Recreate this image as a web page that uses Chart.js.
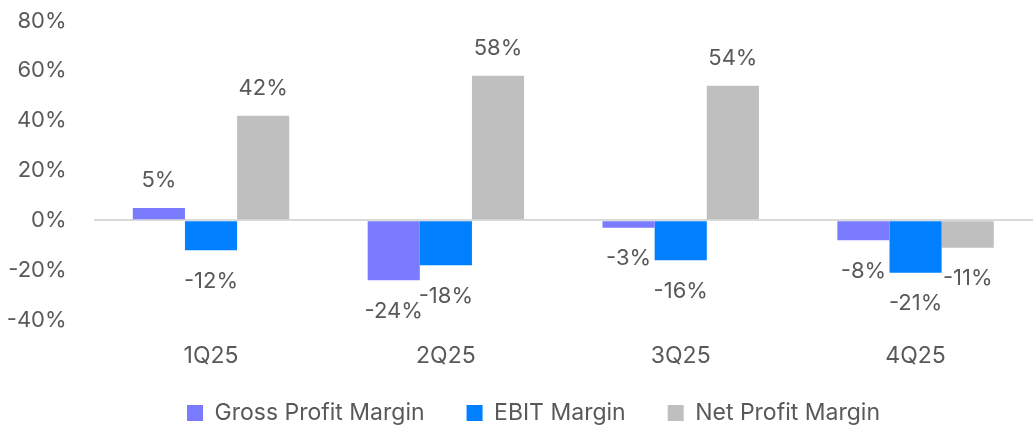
<!DOCTYPE html>
<html>
<head>
<meta charset="utf-8">
<script src="https://cdn.jsdelivr.net/npm/chart.js@4/dist/chart.umd.min.js"></script>
<style>
  html, body { margin: 0; padding: 0; background: #fff; }
  #wrap { width: 1033px; height: 426px; position: relative; }
</style>
</head>
<body>
<div id="wrap"><canvas id="c" width="1033" height="426"></canvas></div>
<script>
const categories = ['1Q25', '2Q25', '3Q25', '4Q25'];
const grossProfitMargin = [5, -24, -3, -8];
const ebitMargin = [-12, -18, -16, -21];
const netProfitMargin = [42, 58, 54, -11];
const yTicks = [-40, -20, 0, 20, 40, 60, 80];

const FONT = 'Inter, "Open Sans", sans-serif';
const TEXT = '#595959';

const valueLabels = {
  id: 'valueLabels',
  afterDatasetsDraw(chart) {
    const ctx = chart.ctx;
    ctx.save();
    ctx.font = '400 22px ' + FONT;
    ctx.fillStyle = TEXT;
    ctx.textAlign = 'center';
    ctx.textBaseline = 'middle';
    chart.data.datasets.forEach((ds, i) => {
      const meta = chart.getDatasetMeta(i);
      meta.data.forEach((el, j) => {
        const v = ds.data[j];
        const y = v >= 0 ? el.y - 27.5 : el.y + 31;
        ctx.fillText(v + '%', el.x, y);
      });
    });
    ctx.restore();
  }
};

const legendFix = {
  id: 'legendFix',
  beforeInit(chart) {
    const lg = chart.legend;
    if (lg) {
      const orig = lg.fit;
      lg.fit = function () { orig.call(this); this.height = 56.4; };
    }
  },
  afterLayout(chart) {
    const lg = chart.legend;
    if (lg) {
      lg.top = 359.5;
      lg.height = 426 - lg.top;
      lg.bottom = 426;
      lg.left += 17;
      lg.right += 17;
    }
  }
};

new Chart(document.getElementById('c'), {
  type: 'bar',
  data: {
    labels: categories,
    datasets: [
      { label: 'Gross Profit Margin', data: grossProfitMargin, backgroundColor: '#7B7BFF' },
      { label: 'EBIT Margin', data: ebitMargin, backgroundColor: '#0080FF' },
      { label: 'Net Profit Margin', data: netProfitMargin, backgroundColor: '#BFBFBF' }
    ]
  },
  options: {
    responsive: false,
    animation: false,
    devicePixelRatio: 1,
    layout: { padding: { top: 21, right: 0, left: 0, bottom: 0 } },
    datasets: { bar: { categoryPercentage: 0.666, barPercentage: 1.0 } },
    scales: {
      x: {
        grid: { display: false, drawTicks: false },
        border: { display: false },
        ticks: { color: TEXT, font: { family: FONT, size: 23 }, padding: 22 },
        afterFit(s) { s.height = 49.6; s.paddingLeft = 0; s.paddingRight = 0; }
      },
      y: {
        min: -40, max: 80,
        afterBuildTicks(s) { s.ticks = yTicks.map(v => ({ value: v })); },
        grid: {
          drawTicks: false,
          color: c => (c.tick && c.tick.value === 0 ? '#D9D9D9' : 'rgba(0,0,0,0)'),
          lineWidth: 2
        },
        border: { display: false },
        ticks: { color: TEXT, font: { family: FONT, size: 22 }, padding: 27, callback: v => v + '%' },
        afterFit(s) { s.width = 93.6; s.paddingTop = 0; s.paddingBottom = 0; }
      }
    },
    plugins: {
      legend: {
        position: 'bottom',
        labels: {
          color: TEXT,
          font: { family: FONT, size: 23 },
          boxWidth: 16, boxHeight: 16,
          padding: 42
        }
      },
      tooltip: { enabled: false }
    }
  },
  plugins: [valueLabels, legendFix]
});
</script>
</body>
</html>
